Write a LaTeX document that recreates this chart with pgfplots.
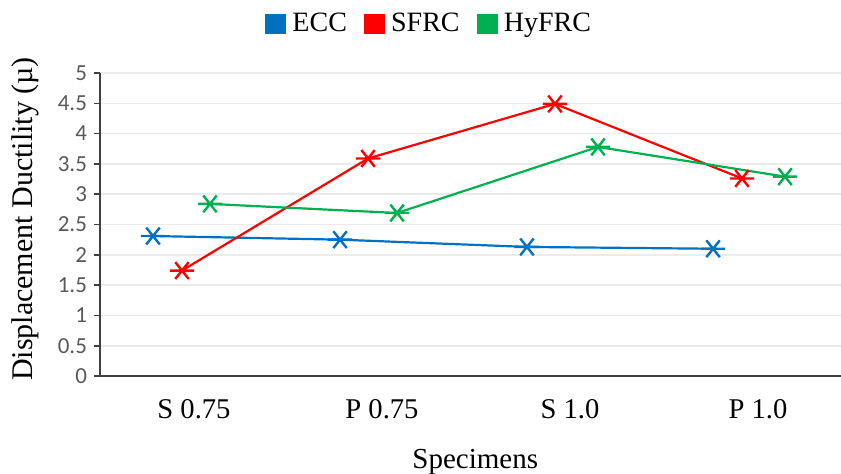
\documentclass[border=0pt]{standalone}
\usepackage{pgfplots}
\pgfplotsset{compat=1.18}
\usepackage{fontspec}
\setmainfont{Liberation Serif}
\newfontfamily\calib{Carlito}
\definecolor{ecc}{HTML}{0070C0}
\definecolor{sfrc}{HTML}{FF0000}
\definecolor{hyfrc}{HTML}{00B050}
\definecolor{gridc}{HTML}{EBEBEB}
\definecolor{tickc}{HTML}{595959}
\pgfdeclareplotmark{xstar}{%
  \pgfpathmoveto{\pgfqpoint{-1.45\pgfplotmarksize}{0pt}}%
  \pgfpathlineto{\pgfqpoint{1.45\pgfplotmarksize}{0pt}}%
  \pgfpathmoveto{\pgfqpoint{-0.8\pgfplotmarksize}{-\pgfplotmarksize}}%
  \pgfpathlineto{\pgfqpoint{0.8\pgfplotmarksize}{\pgfplotmarksize}}%
  \pgfpathmoveto{\pgfqpoint{-0.8\pgfplotmarksize}{\pgfplotmarksize}}%
  \pgfpathlineto{\pgfqpoint{0.8\pgfplotmarksize}{-\pgfplotmarksize}}%
  \pgfusepathqstroke}
\begin{document}
\begin{tikzpicture}
\useasboundingbox (-50pt,-48.5pt) rectangle (370.5pt,188pt);
\begin{axis}[
  at={(0,0)}, anchor=south west,
  scale only axis, width=376pt, height=151.5pt,
  xmin=0, xmax=4, ymin=0, ymax=5,
  xtick={0.5,1.5,2.5,3.5},
  xticklabels={S 0.75, P 0.75, S 1.0, P 1.0},
  ytick={0,0.5,...,5},
  /pgf/number format/assume math mode=true,
  axis x line=bottom, axis y line=left,
  axis line style={-, draw=black!75, line width=0.9pt},
  x axis line style={line width=1.3pt},
  ymajorgrids, major grid style={gridc, line width=0.8pt},
  x tick style={draw=none},
  y tick style={draw=black!75, line width=0.8pt},
  major tick length=3pt,
  tick align=outside,
  xticklabel style={font=\fontsize{14.3}{16}\selectfont, yshift=-5pt},
  yticklabel style={font=\calib\fontsize{11.5}{13}\selectfont, text=tickc},
  xlabel={Specimens},
  ylabel={Displacement Ductility (\textmu)},
  every axis x label/.style={at={(axis description cs:0.499,-0.285)}, anchor=center, font=\fontsize{14.5}{16}\selectfont},
  every axis y label/.style={at={(axis description cs:-0.0997,0.518)}, anchor=center, rotate=90, font=\fontsize{15}{17}\selectfont},
  legend style={at={(0.439,1)}, anchor=south, yshift=17pt, draw=none, fill=none,
    font=\fontsize{14}{16}\selectfont, inner sep=0pt,
    /tikz/every even column/.append style={column sep=6.5pt},
    /tikz/every odd column/.append style={column sep=1pt}},
  legend columns=3,
  legend image code/.code={\fill (0pt,-4.6pt) rectangle (9.5pt,4.6pt);},
  legend cell align=left,
  mark size=4.2pt,
  every axis plot/.append style={line width=1.1pt},
]
\addplot[color=ecc, mark=xstar, mark options={line width=1.2pt}] coordinates {
  (0.282,2.31) (1.277,2.25) (2.271,2.13) (3.261,2.10)};
\addlegendentry{ECC}
\addplot[color=sfrc, mark=xstar, mark options={line width=1.2pt}] coordinates {
  (0.436,1.74) (1.426,3.59) (2.420,4.49) (3.415,3.26)};
\addlegendentry{SFRC}
\addplot[color=hyfrc, mark=xstar, mark options={line width=1.2pt}] coordinates {
  (0.585,2.84) (1.580,2.69) (2.649,3.78) (3.644,3.29)};
\addlegendentry{HyFRC}
\end{axis}
\end{tikzpicture}
\end{document}
